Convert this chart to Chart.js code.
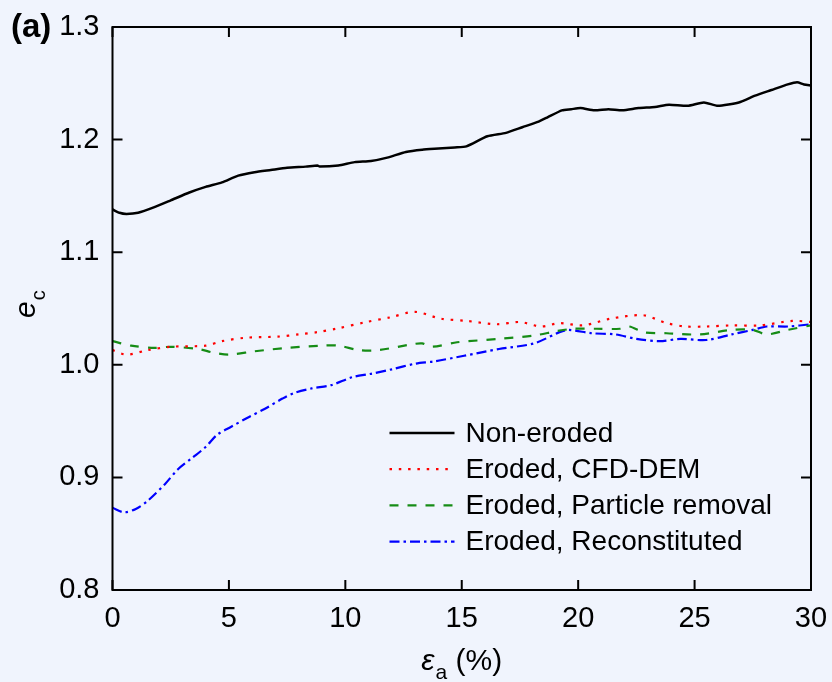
<!DOCTYPE html>
<html>
<head>
<meta charset="utf-8">
<script src="https://cdn.jsdelivr.net/npm/chart.js@4.4.1/dist/chart.umd.min.js"></script>
<style>
  html, body { margin: 0; padding: 0; background: #f0f4fd; }
  #wrap { width: 832px; height: 682px; position: relative; }
</style>
</head>
<body>
<div id="wrap"><canvas id="c"></canvas></div>
<script>
// ---- Data ----
const seriesLabels = ["Non-eroded", "Eroded, CFD-DEM", "Eroded, Particle removal", "Eroded, Reconstituted"];

const strainNonEroded = [0,0.3,0.6,1.1,1.8,2.5,3.3,4.0,4.7,5.4,6.1,6.8,7.5,8.3,8.8,8.9,9.7,10.4,11.1,11.8,12.6,13.3,14.0,14.7,15.2,16.1,16.9,17.6,18.3,18.7,19.3,19.7,20.1,20.7,21.3,21.9,22.6,23.3,23.9,24.7,25.4,26.0,26.9,27.6,28.3,29.0,29.4,29.7,30];
const eNonEroded = [1.138,1.135,1.134,1.135,1.140,1.146,1.153,1.158,1.162,1.168,1.171,1.173,1.175,1.176,1.177,1.176,1.177,1.180,1.181,1.184,1.189,1.191,1.192,1.193,1.194,1.203,1.206,1.211,1.216,1.220,1.226,1.227,1.228,1.226,1.227,1.226,1.228,1.229,1.231,1.230,1.233,1.230,1.233,1.239,1.244,1.249,1.251,1.249,1.248];

const strainCFD = [0,0.6,1.5,2.5,4.0,4.7,5.7,7.1,8.0,8.8,9.6,10.9,11.9,13.0,14.1,15.2,16.5,17.5,18.4,19.2,20.2,21.4,22.8,23.8,24.6,25.5,26.6,27.8,29.2,30];
const eCFD = [1.013,1.009,1.013,1.016,1.017,1.021,1.024,1.025,1.027,1.029,1.032,1.038,1.042,1.047,1.041,1.039,1.036,1.038,1.034,1.037,1.035,1.041,1.044,1.037,1.034,1.034,1.035,1.035,1.039,1.038];

const strainRemoval = [0,0.8,1.8,2.5,3.7,4.3,5.0,6.1,7.5,9.0,9.7,10.6,11.4,12.8,13.3,13.7,14.8,16.6,18.1,19.1,19.8,20.8,21.8,22.2,22.8,23.8,25.2,26.6,27.5,28.1,29.0,30];
const eRemoval = [1.021,1.017,1.015,1.016,1.014,1.011,1.009,1.012,1.015,1.017,1.017,1.013,1.013,1.018,1.019,1.016,1.020,1.023,1.026,1.030,1.032,1.032,1.032,1.034,1.029,1.028,1.027,1.031,1.031,1.027,1.031,1.035];

const strainRecon = [0,0.5,1.0,1.5,2.25,2.8,3.4,4.0,4.5,5.1,5.8,6.55,7.3,7.8,8.55,9.4,10.3,11.1,12.0,13.0,13.8,15.1,16.6,18.1,19.2,19.6,20.6,21.6,22.5,23.5,24.4,25.5,26.6,27.5,28.1,29.0,30];
const eRecon = [0.873,0.869,0.872,0.879,0.894,0.907,0.917,0.927,0.938,0.945,0.953,0.961,0.970,0.975,0.979,0.982,0.989,0.992,0.996,1.001,1.003,1.008,1.014,1.019,1.029,1.031,1.028,1.027,1.023,1.021,1.023,1.022,1.027,1.031,1.034,1.034,1.036];

const xTicks = [0, 5, 10, 15, 20, 25, 30];
const yTicks = [0.8, 0.9, 1.0, 1.1, 1.2, 1.3];

// ---- helpers ----
const pts = (xs, ys) => xs.map((x, i) => ({ x: x, y: ys[i] }));
const FONT = '"Liberation Sans", Arial, sans-serif';

const frameAndTicks = {
  id: 'frameAndTicks',
  afterDatasetsDraw(chart) {
    const { ctx, chartArea: a, scales } = chart;
    const L = 10;
    ctx.save();
    ctx.strokeStyle = '#000';
    ctx.lineWidth = 2;
    ctx.beginPath();
    xTicks.forEach(v => {
      const px = scales.x.getPixelForValue(v);
      ctx.moveTo(px, a.bottom); ctx.lineTo(px, a.bottom - L);
      ctx.moveTo(px, a.top); ctx.lineTo(px, a.top + L);
    });
    yTicks.forEach(v => {
      const py = scales.y.getPixelForValue(v);
      ctx.moveTo(a.left, py); ctx.lineTo(a.left + L, py);
      ctx.moveTo(a.right, py); ctx.lineTo(a.right - L, py);
    });
    ctx.stroke();
    ctx.strokeRect(a.left, a.top, a.right - a.left, a.bottom - a.top);
    ctx.restore();
  }
};

const customLegend = {
  id: 'customLegend',
  afterDraw(chart) {
    const { ctx, chartArea: a } = chart;
    const x0 = a.left + 277, x1 = a.left + 342, tx = a.left + 353;
    const y0 = a.top + 406, dy = 36.2;
    ctx.save();
    ctx.font = '28px ' + FONT;
    ctx.textBaseline = 'middle';
    ctx.fillStyle = '#000';
    chart.data.datasets.forEach((ds, i) => {
      const y = y0 + i * dy;
      ctx.strokeStyle = ds.borderColor;
      ctx.lineWidth = ds.borderWidth;
      ctx.setLineDash(ds.borderDash || []);
      ctx.beginPath(); ctx.moveTo(x0, y); ctx.lineTo(x1, y); ctx.stroke();
      ctx.setLineDash([]);
      ctx.fillText(ds.label, tx, y + 1);
    });
    ctx.restore();
  }
};

const titles = {
  id: 'titles',
  afterDraw(chart) {
    const { ctx, chartArea: a } = chart;
    ctx.save();
    ctx.fillStyle = '#000';
    ctx.textBaseline = 'alphabetic';
    // panel label
    ctx.font = 'bold 33px ' + FONT;
    ctx.textAlign = 'left';
    ctx.fillText('(a)', 11, 37);
    // x title: ε_a (%)
    const cx = (a.left + a.right) / 2;
    ctx.font = 'italic 30px ' + FONT;
    const w1 = ctx.measureText('\u03B5').width;
    ctx.font = '21px ' + FONT;
    const w2 = ctx.measureText('a').width;
    ctx.font = '30px ' + FONT;
    const w3 = ctx.measureText(' (%)').width;
    let sx = cx - (w1 + w2 + w3 + 1) / 2;
    const by = 670;
    ctx.font = 'italic 30px ' + FONT;
    ctx.fillText('\u03B5', sx, by);
    sx += w1 + 1;
    ctx.font = '21px ' + FONT;
    ctx.fillText('a', sx, by + 9);
    sx += w2;
    ctx.font = '30px ' + FONT;
    ctx.fillText(' (%)', sx, by);
    // y title: e_c rotated
    ctx.translate(35, 318);
    ctx.rotate(-Math.PI / 2);
    ctx.font = 'italic 30px ' + FONT;
    const we = ctx.measureText('e').width;
    ctx.fillText('e', 0, 0);
    ctx.font = '20px ' + FONT;
    ctx.fillText('c', we + 1, 10);
    ctx.restore();
  }
};

new Chart(document.getElementById('c'), {
  type: 'line',
  data: {
    datasets: [
      { label: seriesLabels[0], data: pts(strainNonEroded, eNonEroded), borderColor: '#000000', borderWidth: 2.5, borderDash: [], tension: 0.2 },
      { label: seriesLabels[1], data: pts(strainCFD, eCFD), borderColor: '#ff0000', borderWidth: 2.2, borderDash: [2.5, 6.8], tension: 0.3 },
      { label: seriesLabels[2], data: pts(strainRemoval, eRemoval), borderColor: '#168c16', borderWidth: 2.2, borderDash: [9, 9], tension: 0.3 },
      { label: seriesLabels[3], data: pts(strainRecon, eRecon), borderColor: '#0000ff', borderWidth: 2.2, borderDash: [10, 4, 2.5, 4], tension: 0.3 }
    ]
  },
  options: {
    responsive: true,
    maintainAspectRatio: false,
    animation: false,
    parsing: true,
    elements: { point: { radius: 0 } },
    layout: { padding: { top: 27, right: 21, left: 0, bottom: 0 } },
    plugins: { legend: { display: false }, tooltip: { enabled: false } },
    scales: {
      x: {
        type: 'linear', min: 0, max: 30,
        afterBuildTicks: s => { s.ticks = xTicks.map(v => ({ value: v })); },
        afterFit: s => { s.height = 92; s.paddingLeft = 0; s.paddingRight = 0; },
        grid: { display: false, drawTicks: false },
        border: { display: false },
        ticks: { font: { family: FONT, size: 29 }, color: '#000', padding: 12, maxRotation: 0,
                 callback: v => String(v) }
      },
      y: {
        type: 'linear', min: 0.8, max: 1.3,
        afterBuildTicks: s => { s.ticks = yTicks.map(v => ({ value: v })); },
        afterFit: s => { s.width = 112.5; s.paddingTop = 0; s.paddingBottom = 0; },
        grid: { display: false, drawTicks: false },
        border: { display: false },
        ticks: { font: { family: FONT, size: 29 }, color: '#000', padding: 13,
                 callback: v => Number(v).toFixed(1) }
      }
    }
  },
  plugins: [frameAndTicks, customLegend, titles]
});
</script>
</body>
</html>
